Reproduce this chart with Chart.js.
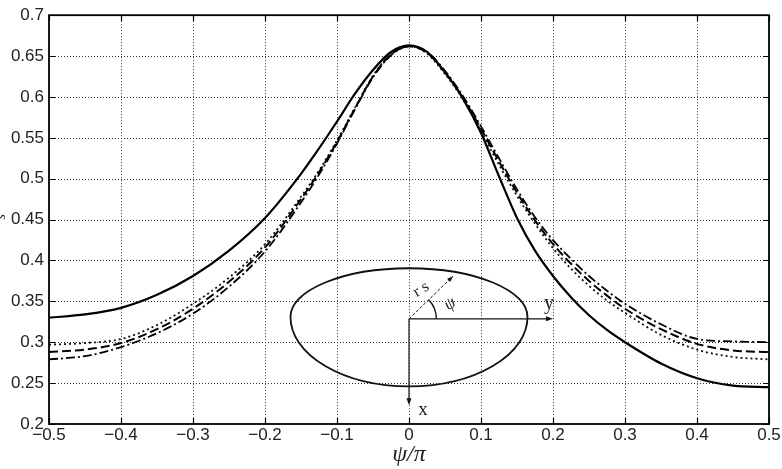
<!DOCTYPE html>
<html><head><meta charset="utf-8">
<style>html,body{margin:0;padding:0;background:#fff;}#wrap{width:782px;height:469px;position:relative;}</style>
<script src="https://cdn.jsdelivr.net/npm/chart.js@4.4.0/dist/chart.umd.min.js"></script>
</head><body><div id="wrap"><canvas id="c" width="782" height="469"></canvas></div>
<script>
const psiValues = [-0.5,-0.45,-0.4,-0.35,-0.3,-0.25,-0.2,-0.15,-0.125,-0.1,-0.075,-0.05,-0.025,0,0.025,0.05,0.075,0.1,0.125,0.15,0.175,0.2,0.225,0.25,0.275,0.3,0.35,0.4,0.45,0.5];
const solidSeries = [0.330,0.334,0.342,0.358,0.381,0.412,0.452,0.506,0.537,0.570,0.604,0.633,0.655,0.663,0.655,0.630,0.598,0.556,0.503,0.452,0.412,0.381,0.355,0.333,0.315,0.300,0.274,0.256,0.247,0.245];
const dashedSeries = [0.288,0.291,0.299,0.316,0.341,0.374,0.416,0.475,0.508,0.545,0.586,0.625,0.652,0.662,0.654,0.630,0.599,0.561,0.521,0.483,0.449,0.420,0.396,0.375,0.357,0.341,0.316,0.298,0.290,0.288];
const dottedSeries = [0.297,0.299,0.304,0.321,0.347,0.379,0.420,0.478,0.510,0.547,0.587,0.626,0.652,0.662,0.653,0.628,0.597,0.558,0.517,0.479,0.445,0.415,0.390,0.369,0.351,0.336,0.309,0.291,0.282,0.279];
const dashDotSeries = [0.279,0.283,0.294,0.311,0.335,0.368,0.411,0.471,0.505,0.543,0.585,0.624,0.651,0.662,0.655,0.632,0.601,0.564,0.525,0.487,0.453,0.425,0.402,0.381,0.363,0.347,0.322,0.304,0.301,0.300];
const xTickValues = [-0.5,-0.4,-0.3,-0.2,-0.1,0,0.1,0.2,0.3,0.4,0.5];
const yTickValues = [0.2,0.25,0.3,0.35,0.4,0.45,0.5,0.55,0.6,0.65,0.7];

const pts = ys => psiValues.map((x,i)=>({x:x,y:ys[i]}));
const fmt = v => { const r = Math.round(v*1000)/1000; const s = String(Math.abs(r)); return r<0 ? '\u2212'+s : s; };

const frame = {
  id:'frame',
  beforeDatasetsDraw(chart){
    const {ctx, chartArea:a, scales:{x,y}} = chart;
    ctx.save();
    ctx.strokeStyle='#333'; ctx.lineWidth=1; ctx.setLineDash([1,2]);
    xTickValues.forEach(v=>{ if(v<=-0.5||v>=0.5) return; const p=Math.round(x.getPixelForValue(v))+0.5; ctx.beginPath(); ctx.moveTo(p,a.top); ctx.lineTo(p,a.bottom); ctx.stroke(); });
    yTickValues.forEach(v=>{ if(v<=0.2||v>=0.7) return; const p=Math.round(y.getPixelForValue(v))+0.5; ctx.beginPath(); ctx.moveTo(a.left,p); ctx.lineTo(a.right,p); ctx.stroke(); });
    ctx.restore();
  },
  afterDatasetsDraw(chart){
    const {ctx, chartArea:a, scales:{x,y}} = chart;
    ctx.save();
    ctx.strokeStyle='#000'; ctx.lineWidth=1.2; ctx.setLineDash([]);
    xTickValues.forEach(v=>{ const p=Math.round(x.getPixelForValue(v))+0.5; ctx.beginPath(); ctx.moveTo(p,a.bottom); ctx.lineTo(p,a.bottom-6); ctx.moveTo(p,a.top); ctx.lineTo(p,a.top+6); ctx.stroke(); });
    yTickValues.forEach(v=>{ const p=Math.round(y.getPixelForValue(v))+0.5; ctx.beginPath(); ctx.moveTo(a.left,p); ctx.lineTo(a.left+6,p); ctx.moveTo(a.right,p); ctx.lineTo(a.right-6,p); ctx.stroke(); });
    ctx.lineWidth=1.8;
    ctx.strokeRect(a.left,a.top,a.right-a.left,a.bottom-a.top);

    // inset sketch
    const X=v=>x.getPixelForValue(v), Y=v=>y.getPixelForValue(v);
    const cx=X(0), cy=Y(0.331), rx=X(0.1646)-X(0), rTop=Y(0.331)-Y(0.3905), rBot=Y(0.2461)-Y(0.331);
    ctx.lineWidth=1.8; ctx.strokeStyle='#111';
    ctx.beginPath(); ctx.ellipse(cx,cy,rx,rTop,0,Math.PI,2*Math.PI); ctx.stroke();
    ctx.beginPath(); ctx.ellipse(cx,cy,rx,rBot,0,0,Math.PI); ctx.stroke();
    const ox=X(0), oy=Y(0.3286);
    const arrow=(x1,y1,x2,y2,len,w)=>{ const ang=Math.atan2(y2-y1,x2-x1); ctx.beginPath(); ctx.moveTo(x2,y2); ctx.lineTo(x2-len*Math.cos(ang)+w*Math.sin(ang), y2-len*Math.sin(ang)-w*Math.cos(ang)); ctx.lineTo(x2-len*Math.cos(ang)-w*Math.sin(ang), y2-len*Math.sin(ang)+w*Math.cos(ang)); ctx.closePath(); ctx.fill(); };
    ctx.fillStyle='#111'; ctx.lineWidth=1.2;
    const yx=X(0.2); ctx.beginPath(); ctx.moveTo(ox,oy); ctx.lineTo(yx-5,oy); ctx.stroke(); arrow(ox,oy,yx,oy,7,2.5);
    const xy=Y(0.223); ctx.beginPath(); ctx.moveTo(ox,oy); ctx.lineTo(ox,xy-5); ctx.stroke(); arrow(ox,oy,ox,xy,7,2.5);
    const rex=X(0.0611), rey=Y(0.3808);
    ctx.lineWidth=1; ctx.setLineDash([3,2]); ctx.beginPath(); ctx.moveTo(ox,oy); ctx.lineTo(rex,rey); ctx.stroke(); ctx.setLineDash([]);
    arrow(ox,oy,rex,rey,6,2.2);
    const ang=Math.atan2(rey-oy,rex-ox);
    ctx.lineWidth=1.4; ctx.beginPath(); ctx.arc(ox,oy,X(0.038)-X(0),ang,0); ctx.stroke();
    ctx.fillStyle='#222';
    ctx.font='20px "Liberation Serif", serif'; ctx.textAlign='center'; ctx.textBaseline='middle';
    ctx.fillText('y',X(0.1944),Y(0.3468));
    ctx.font='19px "Liberation Serif", serif';
    ctx.fillText('x',X(0.0194),Y(0.217));
    ctx.save(); ctx.translate(X(0.017),Y(0.3645)); ctx.rotate(-0.55); ctx.font='16px "Liberation Serif", serif'; ctx.fillText('r s',0,0); ctx.restore();
    ctx.save(); ctx.translate(X(0.057),Y(0.3468)); ctx.rotate(-0.6); ctx.font='italic 17px "Liberation Serif", serif'; ctx.fillText('\u03C8',0,0); ctx.restore();

    // axis titles
    ctx.fillStyle='#222';
    ctx.font='italic 24px "Liberation Serif", serif'; ctx.textAlign='center'; ctx.textBaseline='alphabetic';
    ctx.fillText('\u03C8/\u03C0',(a.left+a.right)/2,461);
    ctx.save(); ctx.translate(0,(a.top+a.bottom)/2); ctx.rotate(-Math.PI/2);
    ctx.font='italic 22px "Liberation Serif", serif'; ctx.textAlign='right'; ctx.fillText('r',0,0);
    ctx.font='italic 14px "Liberation Serif", serif'; ctx.textAlign='left'; ctx.fillText('s',0,5);
    ctx.restore();
    ctx.restore();
  }
};

const tickFont = {family:'"Liberation Sans", Arial, sans-serif', size:17};
new Chart(document.getElementById('c'), {
  type:'scatter',
  data:{datasets:[
    {label:'solid', data:pts(solidSeries), showLine:true, borderColor:'#000', borderWidth:2.2, pointRadius:0, cubicInterpolationMode:'monotone'},
    {label:'dashed', data:pts(dashedSeries), showLine:true, borderColor:'#000', borderWidth:2, borderDash:[9,4], pointRadius:0, cubicInterpolationMode:'monotone'},
    {label:'dotted', data:pts(dottedSeries), showLine:true, borderColor:'#111', borderWidth:1.8, borderDash:[2,3], pointRadius:0, cubicInterpolationMode:'monotone'},
    {label:'dashdot', data:pts(dashDotSeries), showLine:true, borderColor:'#000', borderWidth:1.8, borderDash:[9,3,2,3], pointRadius:0, cubicInterpolationMode:'monotone'}
  ]},
  options:{
    responsive:false, animation:false, devicePixelRatio:1,
    layout:{padding:{top:12,right:13,left:0,bottom:0}},
    plugins:{legend:{display:false}, tooltip:{enabled:false}},
    scales:{
      x:{type:'linear', min:-0.5, max:0.5,
        afterBuildTicks:s=>{s.ticks=xTickValues.map(v=>({value:v}));},
        afterFit:s=>{s.height=45;},
        grid:{display:false, drawTicks:false}, border:{display:false},
        ticks:{font:tickFont, color:'#222', padding:1, maxRotation:0, autoSkip:false, callback:v=>fmt(v)}},
      y:{type:'linear', min:0.2, max:0.7,
        afterBuildTicks:s=>{s.ticks=yTickValues.map(v=>({value:v}));},
        afterFit:s=>{s.width=49;},
        grid:{display:false, drawTicks:false}, border:{display:false},
        ticks:{font:tickFont, color:'#222', padding:5, autoSkip:false, callback:v=>fmt(v)}}
    }
  },
  plugins:[frame]
});
</script></body></html>
